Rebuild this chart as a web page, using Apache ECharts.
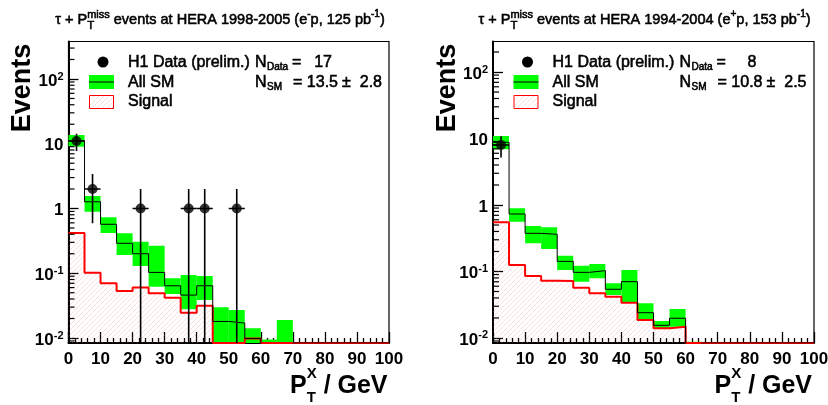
<!DOCTYPE html>
<html><head><meta charset="utf-8">
<script src="https://cdn.jsdelivr.net/npm/echarts@6/dist/echarts.min.js"></script>
<style>html,body{margin:0;padding:0;background:#fff}#c{width:828px;height:405px}</style>
</head><body><div id="c"></div>
<script>
// ---------------- data ----------------
const binEdges = [0,5,10,15,20,25,30,35,40,45,50,55,60,65,70,75,80,85,90,95,100];
const xTickLabels = ['0','10','20','30','40','50','60','70','80','90','100'];
const yTickExps = [-2,-1,0,1,2];
const yTickLabels = ['10{sup|-2}','10{sup|-1}','1','10','10{sup|2}'];

// left panel: e-p 1998-2005
const smL      = [11.1,1.27,0.57,0.29,0.20,0.103,0.064,0.046,0.064,0.018,0.017,0.0098,0.006,0.007,0,0,0,0,0,0];
const bandLowL = [9.0,0.89,0.42,0.191,0.129,0.062,0.0478,0.0277,0.0386,0,0,0,0,0,0,0,0,0,0,0];
const bandHighL= [13.6,1.56,0.73,0.414,0.307,0.266,0.0836,0.094,0.0907,0.0298,0.027,0.0141,0.0095,0.019,0,0,0,0,0,0];
const sigL     = [0.42,0.102,0.070,0.053,0.060,0.049,0.042,0.0246,0.0315,0,0,0.0098,0,0,0,0,0,0,0,0];
const dataXL   = [2.5,7.5,22.5,37.5,42.5,52.5];
const dataYL   = [11,2,1,1,1,1];
const dataLoL  = [7.7,0.59,0,0,0,0];
const dataHiL  = [14.3,3.41,2,2,2,2];
const dataXErrL= [2.5,2.5,2.5,2.5,2.5,2.5];
const nDataL = '17', nSmL = '13.5', nSmErrL = '2.8';

// right panel: e+p 1994-2004
const smR      = [8.77,0.733,0.375,0.362,0.142,0.097,0.103,0.054,0.0703,0.024,0.0155,0.0198,0.007,0,0,0,0,0,0,0];
const bandLowR = [6.9,0.561,0.265,0.218,0.105,0.0703,0.079,0.0443,0.034,0.0187,0.014,0.0148,0,0,0,0,0,0,0,0];
const bandHighR= [10.9,0.891,0.483,0.462,0.173,0.122,0.130,0.0665,0.105,0.0333,0.018,0.0273,0.0088,0,0,0,0,0,0,0];
const sigR     = [0.55,0.125,0.0856,0.0727,0.072,0.057,0.047,0.0418,0.034,0.0187,0.014,0.0148,0,0,0,0,0,0,0,0];
const dataXR   = [2.5];
const dataYR   = [8];
const dataLoR  = [5.17];
const dataHiR  = [10.83];
const dataXErrR= [2.5];
const nDataR = '8', nSmR = '10.8', nSmErrR = '2.5';

const titleL = {pre:'τ + P', sup:'miss', sub:'T', mid:' events at HERA 1998-2005 (e', charge:'-', post:'p, 125 pb', unit:'-1', end:')'};
const titleR = {pre:'τ + P', sup:'miss', sub:'T', mid:' events at HERA 1994-2004 (e', charge:'+', post:'p, 153 pb', unit:'-1', end:')'};

// ---------------- layout ----------------
const FONT = '"Liberation Sans", Arial, Helvetica, sans-serif';
const panels = [
  {left:68.5, top:41.5, width:320.5, height:301.5, yMin:0.00837, yMax:379},
  {left:493, top:41.5, width:321, height:301.5, yMin:0.0084, yMax:288}
];

const mctx = document.createElement('canvas').getContext('2d');
function tw(t, size, weight){ mctx.font = weight + ' ' + size + 'px ' + FONT; return mctx.measureText(t).width; }
function txt(t, x, y, size, weight, align){
  const st = {text:t, font: weight+' '+size+'px '+FONT, fill:'#000', align: align||'left', verticalAlign:'middle'};
  if (weight === 'normal') { st.stroke = '#000'; st.lineWidth = 0.55; }
  return {type:'text', x:x, y:y, silent:true, z:100, style:st};
}
function row(x, y, pieces, weight){
  const els = []; let cx = x, px = x, pw = 0;
  pieces.forEach(p => {
    const w = tw(p.t, p.s, weight);
    let xx;
    if (p.stack){ xx = px; pw = Math.max(pw, w); cx = px + pw; }
    else { xx = cx; px = cx; pw = w; cx += w; }
    els.push(txt(p.t, xx, y + (p.dy||0), p.s, weight));
  });
  return {els, width: cx - x};
}
function rowCentered(cx, y, pieces, weight){
  const w = row(0, 0, pieces, weight).width;
  return row(cx - w/2, y, pieces, weight).els;
}

// hatch pattern
const pc = document.createElement('canvas'); pc.width = 5; pc.height = 5;
(function(){ const g = pc.getContext('2d'); g.strokeStyle = 'rgba(240,140,140,0.35)'; g.lineWidth = 0.8;
  g.beginPath(); g.moveTo(-1,6); g.lineTo(6,-1); g.moveTo(-1,1); g.lineTo(1,-1); g.moveTo(4,6); g.lineTo(6,4); g.stroke(); })();
const hatch = {image: pc, repeat: 'repeat'};

function stepPts(vals, yMin){
  const pts = vals.map((v,i) => [binEdges[i], v > 0 ? v : yMin]);
  pts.push([binEdges[binEdges.length-1], pts[pts.length-1][1]]);
  return pts;
}

const grids = [], xAxes = [], yAxes = [], series = [], graphics = [];

function buildPanel(gi, P, sm, lo, hi, sig, dx, dy, dlo, dhi, dxe, title, nData, nSm, nSmErr){
  const yMin = P.yMin;
  grids.push({left:P.left, top:P.top, width:P.width, height:P.height, show:true, borderColor:'#000', borderWidth:1.2, backgroundColor:'transparent', outerBoundsMode:'none', containLabel:false});
  xAxes.push({type:'value', gridIndex:gi, min:0, max:100, interval:10,
    axisLine:{show:true, onZero:false, lineStyle:{color:'#000', width:2}},
    axisTick:{show:true, inside:true, length:11, lineStyle:{color:'#000', width:1.3}},
    minorTick:{show:true, splitNumber:5, length:5, lineStyle:{color:'#000', width:1.3}},
    splitLine:{show:false},
    axisLabel:{show:true, margin:8, color:'#000', fontFamily:FONT, fontWeight:'bold', fontSize:17,
      formatter: v => xTickLabels[Math.round(v/10)]}
  });
  yAxes.push({type:'log', gridIndex:gi, min:P.yMin, max:P.yMax, logBase:10,
    axisLine:{show:true, onZero:false, lineStyle:{color:'#000', width:2}},
    axisTick:{show:true, inside:true, length:10, lineStyle:{color:'#000', width:1.3}},
    splitLine:{show:false},
    axisLabel:{show:true, margin:5, color:'#000', fontFamily:FONT, fontWeight:'bold', fontSize:17,
      showMinLabel:false, showMaxLabel:false, padding:[4,0,0,0],
      formatter: v => { const e = Math.round(Math.log10(v)); if (Math.abs(Math.log10(v) - e) > 1e-6) return ''; const k = yTickExps.indexOf(e); return k < 0 ? '' : yTickLabels[k]; },
      rich:{sup:{fontSize:11, fontWeight:'bold', fontFamily:FONT, color:'#000', verticalAlign:'top', padding:[0,0,9,0]}}
    }
  });
  // hatched signal area
  series.push({type:'line', xAxisIndex:gi, yAxisIndex:gi, step:'end', symbol:'none', z:1, silent:true,
    data: stepPts(sig, yMin), lineStyle:{width:0, opacity:0}, areaStyle:{color:hatch, origin:'start', opacity:1}});
  // SM uncertainty band
  series.push({type:'custom', xAxisIndex:gi, yAxisIndex:gi, z:2, clip:true, silent:true,
    data: hi.map((h,i) => [binEdges[i], binEdges[i+1], Math.max(lo[i], yMin), Math.max(h, yMin)]).filter(d => d[3] > yMin),
    encode:{x:[0,1], y:[2,3]},
    renderItem:(params, api) => {
      const a = api.coord([api.value(0), api.value(3)]);
      const b = api.coord([api.value(1), api.value(2)]);
      return {type:'rect', shape:{x:a[0], y:a[1], width:b[0]-a[0], height:b[1]-a[1]}, style:{fill:'#00ff00'}};
    }});
  // signal line
  series.push({type:'line', xAxisIndex:gi, yAxisIndex:gi, step:'end', symbol:'none', z:3, silent:true,
    data: stepPts(sig, yMin), lineStyle:{color:'#ff0000', width:2}});
  // SM line
  series.push({type:'line', xAxisIndex:gi, yAxisIndex:gi, step:'end', symbol:'none', z:4, silent:true,
    data: stepPts(sm, yMin), lineStyle:{color:'#000', width:1}});
  // error bars
  series.push({type:'custom', xAxisIndex:gi, yAxisIndex:gi, z:5, clip:true, silent:true,
    data: dx.map((x,i) => [x, dy[i], Math.max(dlo[i], yMin), dhi[i], dxe[i]]),
    encode:{x:0, y:1},
    renderItem:(params, api) => {
      const x = api.value(0), y = api.value(1), e = api.value(4);
      const t = api.coord([x, api.value(3)]), b = api.coord([x, api.value(2)]);
      const l = api.coord([x - e, y]), r = api.coord([x + e, y]);
      const st = {stroke:'#000', lineWidth:1.6};
      return {type:'group', children:[
        {type:'line', shape:{x1:t[0], y1:t[1], x2:b[0], y2:b[1]}, style:st},
        {type:'line', shape:{x1:l[0], y1:l[1], x2:r[0], y2:r[1]}, style:st}
      ]};
    }});
  // data points
  series.push({type:'scatter', xAxisIndex:gi, yAxisIndex:gi, z:6, silent:true, symbol:'circle', symbolSize:10,
    itemStyle:{color:'#000'}, data: dx.map((x,i) => [x, dy[i]])});
  // minor log ticks (2..9 x 10^k)
  const minor = [];
  for (let k = -3; k <= 2; k++) for (let m = 2; m <= 9; m++) { const v = m * Math.pow(10, k); if (v > P.yMin && v < P.yMax) minor.push(v); }
  series.push({type:'custom', xAxisIndex:gi, yAxisIndex:gi, z:7, silent:true,
    data: minor.map(v => [0, v]), encode:{x:0, y:1},
    renderItem:(params, api) => {
      const p = api.coord([0, api.value(1)]);
      return {type:'line', shape:{x1:p[0], y1:p[1], x2:p[0]+6, y2:p[1]}, style:{stroke:'#000', lineWidth:1.2}};
    }});

  // ---- texts ----
  const ox = P.left - panels[0].left;
  graphics.push(...rowCentered(220 + ox, 20, [
    {t:title.pre, s:14.5}, {t:title.sup, s:11, dy:-5.5}, {t:title.sub, s:11.5, dy:5.5, stack:true},
    {t:title.mid, s:14.5}, {t:title.charge, s:10, dy:-6}, {t:title.post, s:14.5}, {t:title.unit, s:10, dy:-6}, {t:title.end, s:14.5}
  ], 'normal'));
  // Events
  graphics.push({type:'text', x:23 + ox, y:88, rotation:Math.PI/2, silent:true, z:100,
    style:{text:'Events', font:'bold 27px '+FONT, fill:'#000', align:'center', verticalAlign:'middle'}});
  // x title
  graphics.push(...row(290 + ox, 386, [
    {t:'P', s:25}, {t:'X', s:15, dy:-12}, {t:'T', s:15, dy:12, stack:true}, {t:' / GeV', s:25}
  ], 'bold').els);
  // legend
  graphics.push({type:'circle', shape:{cx:103+ox, cy:62, r:5.5}, style:{fill:'#000'}, silent:true, z:100});
  graphics.push({type:'rect', shape:{x:89+ox, y:75, width:25, height:14}, style:{fill:'#00ff00'}, silent:true, z:100});
  graphics.push({type:'line', shape:{x1:89+ox, y1:82, x2:114+ox, y2:82}, style:{stroke:'#000', lineWidth:1}, silent:true, z:101});
  graphics.push({type:'rect', shape:{x:89.5+ox, y:95.5, width:24, height:13}, style:{fill:hatch, stroke:'#ff0000', lineWidth:1}, silent:true, z:100});
  graphics.push(txt('H1 Data (prelim.)', 128+ox, 62.5, 16, 'normal'));
  graphics.push(txt('All SM', 128+ox, 82.5, 16, 'normal'));
  graphics.push(txt('Signal', 128+ox, 102, 16, 'normal'));
  // N_Data, N_SM
  graphics.push(txt('N', 255+ox, 62.5, 16, 'normal'));
  graphics.push(txt('Data', 267+ox, 67.5, 10, 'normal'));
  graphics.push(txt('=', 292+ox, 62.5, 16, 'normal'));
  graphics.push(txt(nData, 332+ox, 62.5, 16, 'normal', 'right'));
  graphics.push(txt('N', 255+ox, 82.5, 16, 'normal'));
  graphics.push(txt('SM', 267+ox, 87.5, 10, 'normal'));
  graphics.push(txt('=', 293+ox, 82.5, 16, 'normal'));
  graphics.push(txt(nSm, 338+ox, 82.5, 16, 'normal', 'right'));
  graphics.push(txt('±', 342+ox, 82.5, 16, 'normal'));
  graphics.push(txt(nSmErr, 382+ox, 82.5, 16, 'normal', 'right'));
}

buildPanel(0, panels[0], smL, bandLowL, bandHighL, sigL, dataXL, dataYL, dataLoL, dataHiL, dataXErrL, titleL, nDataL, nSmL, nSmErrL);
buildPanel(1, panels[1], smR, bandLowR, bandHighR, sigR, dataXR, dataYR, dataLoR, dataHiR, dataXErrR, titleR, nDataR, nSmR, nSmErrR);

const chart = echarts.init(document.getElementById('c'), null, {renderer:'canvas'});
chart.setOption({
  animation:false, backgroundColor:'#fff',
  grid: grids, xAxis: xAxes, yAxis: yAxes, series: series, graphic: graphics
});
</script>
</body></html>
